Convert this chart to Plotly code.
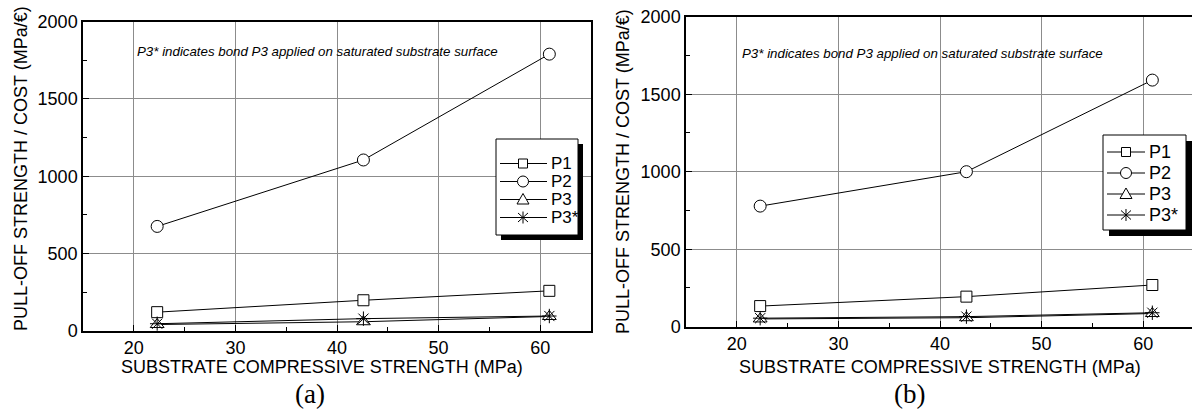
import plotly.graph_objects as go

# ---- data ----
x_strength = [22.3, 42.6, 60.9]

a_P1 = [120, 197, 258]
a_P2 = [675, 1105, 1790]
a_P3 = [40, 58, 92]
a_P3s = [45, 78, 95]

b_P1 = [133, 194, 269]
b_P2 = [778, 1000, 1591]
b_P3 = [50, 58, 85]
b_P3s = [55, 65, 90]

series_names = ["P1", "P2", "P3", "P3*"]
symbols = ["square", "circle", "triangle-up", "asterisk-open"]
marker_sizes = [11, 12, 12, 12]

x_title = "SUBSTRATE COMPRESSIVE STRENGTH (MPa)"
y_title = "PULL-OFF STRENGTH / COST (MPa/€)"
note = "P3* indicates bond P3 applied on saturated substrate surface"
panel_labels = ["(a)", "(b)"]

W, H = 1192, 412
FONT = "Liberation Sans, Arial, sans-serif"

fig = go.Figure()

panels = [
    ("x", "y", [a_P1, a_P2, a_P3, a_P3s]),
    ("x2", "y2", [b_P1, b_P2, b_P3, b_P3s]),
]
for xa, ya, ser in panels:
    for name, vals, sym, ms in zip(series_names, ser, symbols, marker_sizes):
        fig.add_trace(go.Scatter(
            x=x_strength, y=vals, name=name, xaxis=xa, yaxis=ya,
            mode="lines+markers", showlegend=False,
            line=dict(color="black", width=1),
            marker=dict(symbol=sym, size=ms,
                        color="black" if "asterisk" in sym else "white",
                        line=dict(color="black", width=1)),
        ))


def px_x(p):
    return p / W


def px_y(p):
    return 1 - p / H


axis_common = dict(
    showline=True, linecolor="black", linewidth=1.5,
    showgrid=True, gridcolor="#8c8c8c", gridwidth=1,
    ticks="inside", ticklen=6, tickcolor="black",
    tickfont=dict(family=FONT, size=18, color="black"),
    zeroline=False, automargin=False,
)

fig.update_layout(
    width=W, height=H,
    margin=dict(l=0, r=0, t=0, b=0, autoexpand=False),
    paper_bgcolor="white", plot_bgcolor="white",
    showlegend=False,
    xaxis=dict(domain=[px_x(83), px_x(591)], range=[15, 65], anchor="y",
               dtick=10, tick0=0, mirror=True,
               minor=dict(ticks="inside", ticklen=4, dtick=5, tick0=0, showgrid=False, tickcolor="black"),
               **axis_common),
    yaxis=dict(domain=[px_y(330.7), px_y(21.7)], range=[0, 2000], anchor="x",
               dtick=500, mirror=True,
               minor=dict(ticks="inside", ticklen=4, dtick=250, showgrid=False, tickcolor="black"),
               **axis_common),
    xaxis2=dict(domain=[px_x(686), 1.0], range=[15, 15 + (W - 686) / 10.16], anchor="y2",
                dtick=10, tick0=0, mirror=True,
                minor=dict(ticks="inside", ticklen=4, dtick=5, tick0=0, showgrid=False, tickcolor="black"),
                **axis_common),
    yaxis2=dict(domain=[px_y(326.7), px_y(16.7)], range=[0, 2000], anchor="x2",
                dtick=500, mirror=False,
                minor=dict(ticks="inside", ticklen=4, dtick=250, showgrid=False, tickcolor="black"),
                **axis_common),
)

# ---- manual legends (box with drop shadow, line+symbol keys, labels) ----
legend_specs = [
    dict(box=(496, 139, 578, 235), shadow=5, rows=[163.5, 181.5, 199.5, 217.5],
         line=(500, 547), mx=523, tx=549, fsize=17),
    dict(box=(1103, 135, 1186, 230), shadow=6, rows=[152, 173, 194, 215],
         line=(1107, 1145), mx=1126, tx=1147, fsize=18),
]


def seg_path(points_list):
    parts = []
    for pts in points_list:
        parts.append("M " + " L ".join(f"{px_x(px):.5f},{px_y(py):.5f}" for px, py in pts))
    return " ".join(parts)


for spec in legend_specs:
    x0, y0, x1, y1 = spec["box"]
    s = spec["shadow"]
    fig.add_shape(type="rect", xref="paper", yref="paper",
                  x0=px_x(x0 + s), x1=px_x(x1 + s), y0=px_y(y1 + s), y1=px_y(y0 + s),
                  fillcolor="black", line=dict(width=0), layer="above")
    fig.add_shape(type="rect", xref="paper", yref="paper",
                  x0=px_x(x0), x1=px_x(x1), y0=px_y(y1), y1=px_y(y0),
                  fillcolor="white", line=dict(color="black", width=1), layer="above")
    lx0, lx1 = spec["line"]
    mx = spec["mx"]
    for name, sym, ry in zip(series_names, symbols, spec["rows"]):
        fig.add_shape(type="line", xref="paper", yref="paper",
                      x0=px_x(lx0), x1=px_x(lx1), y0=px_y(ry), y1=px_y(ry),
                      line=dict(color="black", width=1), layer="above")
        r = 4.5
        if sym == "square":
            fig.add_shape(type="rect", xref="paper", yref="paper",
                          x0=px_x(mx - r), x1=px_x(mx + r), y0=px_y(ry + r), y1=px_y(ry - r),
                          fillcolor="white", line=dict(color="black", width=1), layer="above")
        elif sym == "circle":
            r = 5.5
            fig.add_shape(type="circle", xref="paper", yref="paper",
                          x0=px_x(mx - r), x1=px_x(mx + r), y0=px_y(ry + r), y1=px_y(ry - r),
                          fillcolor="white", line=dict(color="black", width=1), layer="above")
        elif sym == "triangle-up":
            fig.add_shape(type="path", xref="paper", yref="paper",
                          path=seg_path([[(mx, ry - 6), (mx + 6, ry + 4.5), (mx - 6, ry + 4.5), (mx, ry - 6)]]) + " Z",
                          fillcolor="white", line=dict(color="black", width=1), layer="above")
        else:
            fig.add_shape(type="path", xref="paper", yref="paper",
                          path=seg_path([[(mx, ry - 6), (mx, ry + 6)],
                                         [(mx - 5, ry - 4.5), (mx + 5, ry + 4.5)],
                                         [(mx - 5, ry + 4.5), (mx + 5, ry - 4.5)]]),
                          line=dict(color="black", width=1), layer="above")
        fig.add_annotation(xref="paper", yref="paper", x=px_x(spec["tx"]), y=px_y(ry),
                           xanchor="left", yanchor="middle", showarrow=False, text=name,
                           font=dict(family=FONT, size=spec["fsize"], color="black"))

# ---- axis titles, note, panel labels ----
title_font = dict(family=FONT, size=18, color="black")
annotations = [
    dict(text=y_title, x=px_x(21), y=px_y(169), textangle=-90),
    dict(text=y_title, x=px_x(623), y=px_y(172), textangle=-90),
    dict(text=x_title, x=px_x(322), y=px_y(367)),
    dict(text=x_title, x=px_x(940), y=px_y(367)),
]
for a in annotations:
    fig.add_annotation(xref="paper", yref="paper", xanchor="center", yanchor="middle",
                       showarrow=False, font=title_font, **a)

for xc, yc in [(317, 52), (922, 53)]:
    fig.add_annotation(xref="paper", yref="paper", x=px_x(xc), y=px_y(yc),
                       xanchor="center", yanchor="middle", showarrow=False,
                       text="<i>" + note + "</i>",
                       font=dict(family=FONT, size=13.3, color="black"))

for lab, xc in zip(panel_labels, [310, 909]):
    fig.add_annotation(xref="paper", yref="paper", x=px_x(xc), y=px_y(394),
                       xanchor="center", yanchor="middle", showarrow=False, text=lab,
                       font=dict(family="Liberation Serif, Times New Roman, serif", size=27, color="black"))

fig.write_html("out.html",
               config={"displayModeBar": False},
               post_script="document.body.style.margin='0';document.body.style.overflow='hidden';")
